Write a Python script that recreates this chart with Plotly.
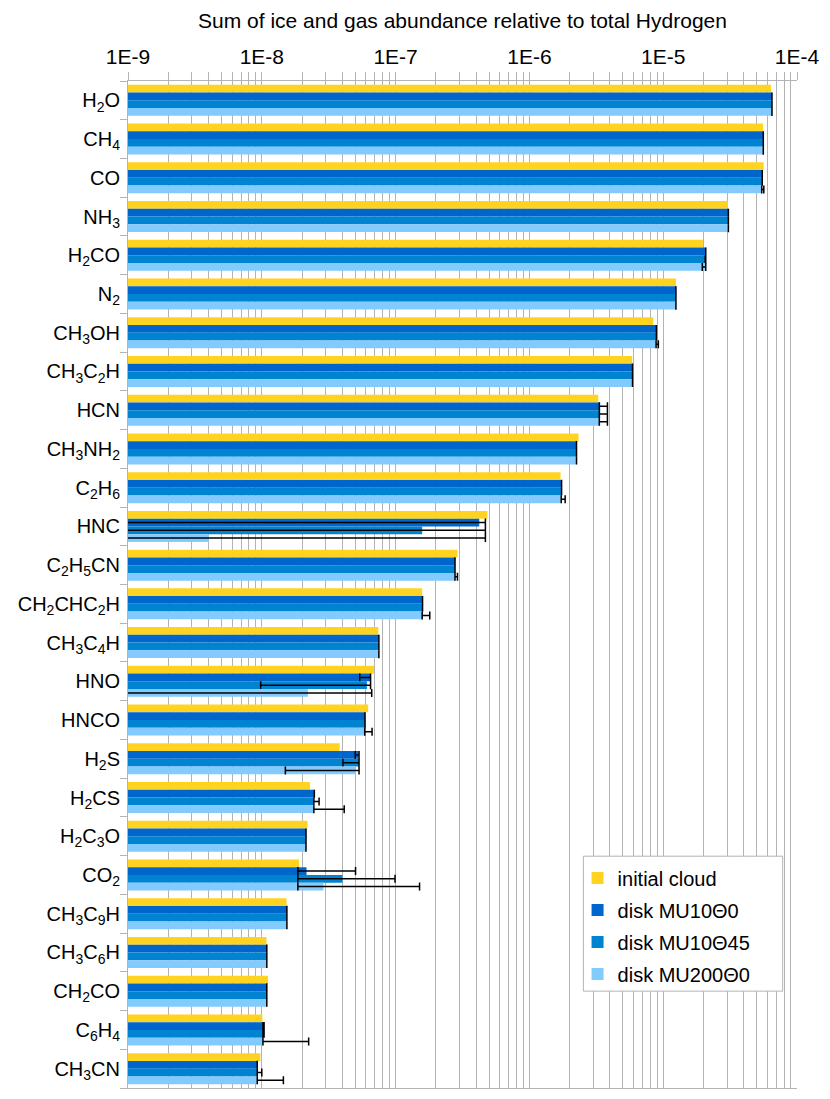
import plotly.graph_objs as go

# molecules, top to bottom
molecules = ["H2O", "CH4", "CO", "NH3", "H2CO", "N2", "CH3OH", "CH3C2H", "HCN", "CH3NH2",
             "C2H6", "HNC", "C2H5CN", "CH2CHC2H", "CH3C4H", "HNO", "HNCO", "H2S", "H2CS",
             "H2C3O", "CO2", "CH3C9H", "CH3C6H", "CH2CO", "C6H4", "CH3CN"]
molecule_labels = ["H<sub>2</sub>O", "CH<sub>4</sub>", "CO", "NH<sub>3</sub>", "H<sub>2</sub>CO",
                   "N<sub>2</sub>", "CH<sub>3</sub>OH", "CH<sub>3</sub>C<sub>2</sub>H", "HCN",
                   "CH<sub>3</sub>NH<sub>2</sub>", "C<sub>2</sub>H<sub>6</sub>", "HNC",
                   "C<sub>2</sub>H<sub>5</sub>CN", "CH<sub>2</sub>CHC<sub>2</sub>H",
                   "CH<sub>3</sub>C<sub>4</sub>H", "HNO", "HNCO", "H<sub>2</sub>S",
                   "H<sub>2</sub>CS", "H<sub>2</sub>C<sub>3</sub>O", "CO<sub>2</sub>",
                   "CH<sub>3</sub>C<sub>9</sub>H", "CH<sub>3</sub>C<sub>6</sub>H",
                   "CH<sub>2</sub>CO", "C<sub>6</sub>H<sub>4</sub>", "CH<sub>3</sub>CN"]

initial_cloud = [6.4e-5, 5.57e-5, 5.63e-5, 3.05e-5, 1.98e-5, 1.245e-5, 8.43e-6, 5.86e-6, 3.27e-6, 2.33e-6,
                 1.71e-6, 4.86e-7, 2.9e-7, 1.58e-7, 7.43e-8, 6.9e-8, 6.24e-8, 3.82e-8, 2.29e-8,
                 2.2e-8, 1.9e-8, 1.53e-8, 1.085e-8, 1.114e-8, 1.01e-8, 9.75e-9]

mu10_t0 = [6.5e-5, 5.6e-5, 5.5e-5, 3.07e-5, 2.08e-5, 1.245e-5, 8.9e-6, 5.9e-6, 3.38e-6, 2.25e-6,
           1.74e-6, 4.22e-7, 2.78e-7, 1.59e-7, 7.5e-8, 6.5e-8, 5.9e-8, 5.28e-8, 2.47e-8,
           2.14e-8, 2.16e-8, 1.54e-8, 1.09e-8, 1.09e-8, 1.02e-8, 9.25e-9]
mu10_t0_hi = [None, None, None, None, None, None, None, None, 3.83e-6, None,
              None, 4.69e-7, None, None, None, None, None, 5.33e-8, None,
              None, 5.02e-8, None, None, None, 1.04e-8, None]
mu10_t0_lo = [None, None, None, None, None, None, None, None, 3.33e-6, None,
              None, 1e-10, None, None, None, 5.4e-8, None, 4.99e-8, None,
              None, 1.86e-8, None, None, None, None, None]

mu10_t45 = [6.5e-5, 5.6e-5, 5.5e-5, 3.07e-5, 2.06e-5, 1.245e-5, 8.9e-6, 5.9e-6, 3.38e-6, 2.25e-6,
            1.74e-6, 1.58e-7, 2.78e-7, 1.59e-7, 7.5e-8, 6.1e-8, 5.9e-8, 5.33e-8, 2.45e-8,
            2.14e-8, 4.01e-8, 1.54e-8, 1.09e-8, 1.09e-8, 1.02e-8, 9.25e-9]
mu10_t45_hi = [None, None, None, None, 2.08e-5, None, None, None, 3.83e-6, None,
               None, 4.69e-7, None, None, None, 6.5e-8, None, None, 2.68e-8,
               None, 9.9e-8, None, None, None, 1.04e-8, 1.0e-8]
mu10_t45_lo = [None, None, None, None, None, None, None, None, 3.33e-6, None,
               None, 1e-10, None, None, None, 9.8e-9, None, 4.04e-8, None,
               None, 1.86e-8, None, None, None, None, None]

mu200_t0 = [6.5e-5, 5.6e-5, 5.45e-5, 3.07e-5, 2.05e-5, 1.245e-5, 8.85e-6, 5.9e-6, 3.38e-6, 2.25e-6,
            1.73e-6, 4.02e-9, 2.78e-7, 1.58e-7, 7.5e-8, 2.21e-8, 5.88e-8, 5.05e-8, 2.45e-8,
            2.14e-8, 2.89e-8, 1.54e-8, 1.09e-8, 1.09e-8, 1.02e-8, 9.25e-9]
mu200_t0_hi = [None, None, 5.65e-5, None, 2.08e-5, None, 9.2e-6, None, 3.83e-6, None,
               1.85e-6, 4.69e-7, 2.9e-7, 1.8e-7, None, 6.63e-8, 6.67e-8, 5.33e-8, 4.13e-8,
               None, 1.51e-7, None, None, None, 2.24e-8, 1.45e-8]
mu200_t0_lo = [None, None, None, None, 1.96e-5, None, None, None, 3.33e-6, None,
               None, 1e-10, None, None, None, 1e-10, None, 1.5e-8, None,
               None, 1.86e-8, None, None, None, None, None]

decades = [1e-9, 1e-8, 1e-7, 1e-6, 1e-5, 1e-4]
decade_labels = ["1E-9", "1E-8", "1E-7", "1E-6", "1E-5", "1E-4"]
minor_steps = [2, 3, 4, 5, 6, 7, 8, 9]

FONT = "Liberation Sans"
GRID = "#b3b3b3"
FS = 20
# the page body adds an 8px margin, so the figure is 8px smaller than the window
W, H = 822, 1091


def err_sizes(vals, hi, lo):
    plus = [(h - v) if h is not None else 0 for v, h in zip(vals, hi)]
    minus = [(v - l) if l is not None else 0 for v, l in zip(vals, lo)]
    return plus, minus


fig = go.Figure()

fig.add_trace(go.Bar(y=molecules, x=initial_cloud, orientation="h", name="initial cloud",
                     marker=dict(color="#ffd320", line=dict(width=0)), legendgroup="a"))

series = [
    ("disk MU10\u03980", mu10_t0, mu10_t0_hi, mu10_t0_lo, "#0066cc"),
    ("disk MU10\u039845", mu10_t45, mu10_t45_hi, mu10_t45_lo, "#0084d1"),
    ("disk MU200\u03980", mu200_t0, mu200_t0_hi, mu200_t0_lo, "#83caff"),
]
for name, vals, hi, lo, col in series:
    plus, minus = err_sizes(vals, hi, lo)
    fig.add_trace(go.Bar(y=molecules, x=vals, orientation="h", name=name,
                         marker=dict(color=col, line=dict(width=0)), legendgroup=name,
                         error_x=dict(type="data", array=plus, arrayminus=minus, symmetric=False,
                                      color="#000000", thickness=1.5, width=4)))

minor_vals = [d * m for d in decades[:-1] for m in minor_steps]

# legend frame drawn as a shape so it can be wider than plotly's own box
fig.add_shape(type="rect", xref="paper", yref="paper", x0=0.6807, x1=0.9786, y0=0.0962, y1=0.2302,
              line=dict(color=GRID, width=1), fillcolor="white", layer="above")

fig.update_layout(
    width=W, height=H,
    margin=dict(l=108, r=26, t=73, b=10),
    paper_bgcolor="white", plot_bgcolor="white",
    font=dict(family=FONT, size=FS, color="#000000"),
    barmode="group", bargap=0.2, bargroupgap=0,
    title=dict(text="Sum of ice and gas abundance relative to total Hydrogen",
               x=0.5, xref="paper", xanchor="center", y=1 - 13 / H, yanchor="middle",
               font=dict(family=FONT, size=21, color="#000000")),
    legend=dict(x=0.672, y=0.228, xanchor="left", yanchor="top",
                bgcolor="rgba(0,0,0,0)", borderwidth=0,
                font=dict(family=FONT, size=FS), tracegroupgap=3, itemwidth=30),
    xaxis=dict(type="log", range=[-9, -4], side="top",
               tickvals=decades, ticktext=decade_labels,
               ticks="outside", ticklen=8, tickcolor=GRID,
               showgrid=True, gridcolor=GRID, gridwidth=1,
               showline=True, linecolor=GRID, mirror=True,
               minor=dict(tickmode="array", tickvals=minor_vals, ticks="outside", ticklen=8,
                          tickcolor=GRID, showgrid=True, gridcolor=GRID, gridwidth=1),
               tickfont=dict(size=21), zeroline=False),
    yaxis=dict(autorange="reversed", tickvals=molecules, ticktext=molecule_labels,
               tickson="boundaries", ticks="outside", ticklen=7, tickcolor=GRID,
               showline=True, linecolor=GRID, showgrid=False,
               tickfont=dict(size=FS), ticklabelstandoff=3),
)

fig.write_html("out.html")
